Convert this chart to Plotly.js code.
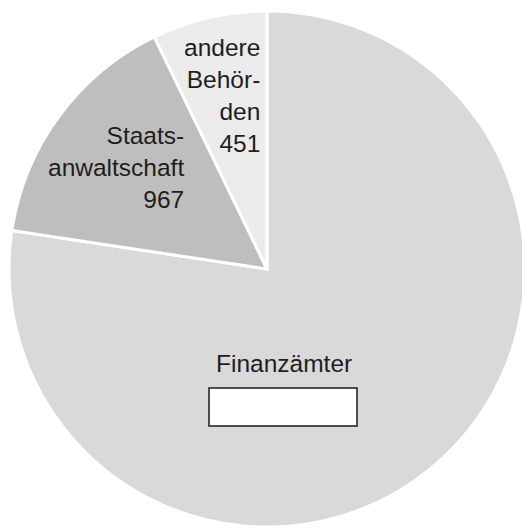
<!DOCTYPE html>
<html>
<head>
<meta charset="utf-8">
<script src="https://cdn.plot.ly/plotly-3.0.1.min.js"></script>
<style>
html,body{margin:0;padding:0;overflow:hidden;background:#fff;}
#chart{width:534px;height:538px;}
</style>
</head>
<body>
<div id="chart"></div>
<script>
// Data (clockwise from 12 o'clock)
const categories = ["Finanzämter", "Staatsanwaltschaft", "andere Behörden"];
const labelLines = [["Finanzämter"], ["Staats-", "anwaltschaft"], ["andere", "Behör-", "den"]];
const values = [4850, 967, 451];
const shownValues = ["", "967", "451"];
const colors = ["#d9d9d9", "#bebebe", "#ebebeb"];

const W = 534, H = 538, ML = 9, MR = 9, MT = 11, MB = 11;
const PW = W - ML - MR, PH = H - MT - MB;
const px = x => (x - ML) / PW;
const py = y => 1 - (y - MT) / PH;

const font = {family: "Liberation Sans, Arial, sans-serif", size: 24.5, color: "#1e1e1e"};

function labelText(i) {
  const lines = labelLines[i].slice();
  if (shownValues[i]) lines.push(shownValues[i]);
  return lines.join("<br>");
}

const annotations = [
  {x: px(284), y: py(363), xanchor: "center", yanchor: "middle", align: "center", text: labelText(0)},
  {x: px(186), y: py(167), xanchor: "right", yanchor: "middle", align: "right", text: labelText(1)},
  {x: px(262), y: py(96), xanchor: "right", yanchor: "middle", align: "right", text: labelText(2)}
].map(a => Object.assign({xref: "paper", yref: "paper", showarrow: false, font: font}, a));

const data = [{
  type: "pie",
  labels: categories,
  values: values,
  sort: false,
  direction: "clockwise",
  rotation: 0,
  textinfo: "none",
  hoverinfo: "label+value",
  marker: {colors: colors, line: {color: "#ffffff", width: 3}},
  domain: {x: [0, 1], y: [0, 1]},
  showlegend: false
}];

const layout = {
  width: W, height: H,
  margin: {l: ML, r: MR, t: MT, b: MB, pad: 0},
  paper_bgcolor: "#ffffff",
  plot_bgcolor: "#ffffff",
  showlegend: false,
  annotations: annotations,
  shapes: [{
    type: "rect", xref: "paper", yref: "paper",
    x0: px(209), x1: px(357), y0: py(426), y1: py(388),
    fillcolor: "#ffffff", line: {color: "#1a1a1a", width: 1.5}, layer: "above"
  }]
};

Plotly.newPlot("chart", data, layout, {staticPlot: true, displayModeBar: false});
</script>
</body>
</html>
